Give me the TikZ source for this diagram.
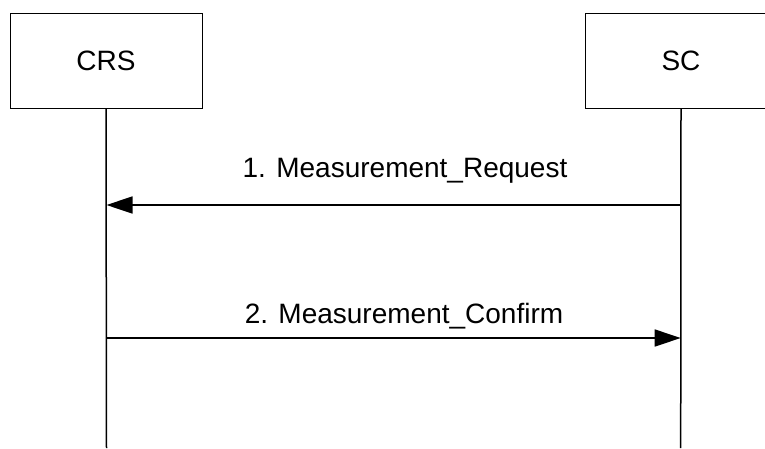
\documentclass[tikz,border=0pt]{standalone}
\usepackage{fontspec}
\setmainfont{Liberation Sans}
\usetikzlibrary{arrows.meta}
\begin{document}
\begin{tikzpicture}[x=1pt,y=-1pt,
  entity/.style={draw,line width=1pt,minimum width=192pt,minimum height=95pt,inner sep=0pt,font=\fontsize{28}{30}\selectfont},
  lifeline/.style={line width=1.5pt},
  msg/.style={line width=1.5pt,-{Triangle[length=26pt,width=17pt]}},
  msglabel/.style={anchor=base,inner sep=0pt,font=\fontsize{28}{30}\selectfont}]
\useasboundingbox (0,0) rectangle (765,448);
\node[entity] (crs) at (106,60.5) {CRS};
\node[entity] (sc) at (681,60.5) {SC};
\coordinate (crsEnd) at (106.5,448);
\coordinate (scEnd) at (680.7,448);
\draw[lifeline] (crs.south) -- (crsEnd);
\draw[lifeline] (sc.south) -- (scEnd);
\coordinate (m1s) at (680.7,205);
\coordinate (m1e) at (106.5,205);
\coordinate (m2s) at (106.5,338);
\coordinate (m2e) at (680.7,338);
\draw[msg] (m1s) -- (m1e);
\draw[msg] (m2s) -- (m2e);
\node[msglabel] (l1) at (405,177) {1. Measurement\_Request};
\node[msglabel] (l2) at (404,323) {2. Measurement\_Confirm};
\end{tikzpicture}
\end{document}
